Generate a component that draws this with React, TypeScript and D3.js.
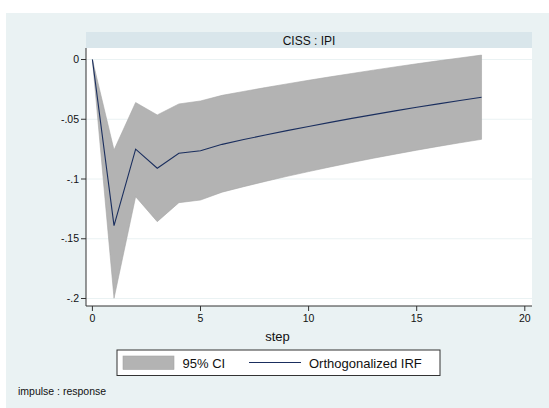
import React from "react";
import * as d3 from "d3";

const steps = [0, 1, 2, 3, 4, 5, 6, 7, 8, 9, 10, 11, 12, 13, 14, 15, 16, 17, 18];
const irf = [0, -0.139, -0.075, -0.091, -0.0785, -0.0763, -0.071, -0.067, -0.0632, -0.0595, -0.056, -0.0526, -0.0493, -0.0461, -0.043, -0.04, -0.0371, -0.0343, -0.0316];
const upper = [0, -0.0757, -0.036, -0.0464, -0.0372, -0.0347, -0.03, -0.0267, -0.0235, -0.0204, -0.0174, -0.0145, -0.0117, -0.0089, -0.0062, -0.0036, -0.0011, 0.0013, 0.0037];
const lower = [0, -0.1998, -0.1148, -0.1357, -0.1198, -0.1176, -0.111, -0.1064, -0.102, -0.0978, -0.0938, -0.0899, -0.0862, -0.0826, -0.0792, -0.0759, -0.0727, -0.0697, -0.0668];
const xTicks = [0, 5, 10, 15, 20];
const yTicks = [0, -0.05, -0.1, -0.15, -0.2];
const yTickLabels = ["0", "-.05", "-.1", "-.15", "-.2"];
const panelTitle = "CISS : IPI";
const xTitle = "step";
const legendLabels = ["95% CI", "Orthogonalized IRF"];
const note = "impulse : response";

const W = 549;
const H = 408;
const FONT = "'Liberation Sans', Arial, Helvetica, sans-serif";

export default function App() {
  const plotL = 86, plotR = 532, plotT = 48, plotB = 306;
  const x = d3.scaleLinear().domain([0, 20]).range([92.4, 524.8]);
  const y = d3.scaleLinear().domain([0, -0.2]).range([59.5, 298.5]);
  const data = steps.map((s, i) => ({ s, m: irf[i], u: upper[i], l: lower[i] }));
  const area = d3.area<any>().x((d) => x(d.s)).y0((d) => y(d.l)).y1((d) => y(d.u));
  const line = d3.line<any>().x((d) => x(d.s)).y((d) => y(d.m));
  const cx = (6 + W) / 2;

  return (
    <svg width={W} height={H} style={{ position: "absolute", left: 0, top: 0 }} fontFamily={FONT}>
      <rect x={0} y={0} width={W} height={H} fill="#ffffff" />
      <rect x={6} y={13} width={W - 6} height={H - 13} fill="#EAF2F3" />
      <rect x={plotL} y={plotT} width={plotR - plotL} height={plotB - plotT} fill="#ffffff" />
      <rect x={plotL} y={32} width={plotR - plotL} height={16} fill="#D9E6EB" />
      <text x={(plotL + plotR) / 2} y={44.5} fontSize={12} textAnchor="middle" fill="#111">{panelTitle}</text>
      {yTicks.map((t) => (
        <line key={"g" + t} x1={plotL} x2={plotR} y1={y(t)} y2={y(t)} stroke="#EAF2F3" strokeWidth={1} />
      ))}
      <path d={area(data) || ""} fill="#B3B3B3" stroke="#A6A6A6" strokeWidth={0.6} />
      <path d={line(data) || ""} fill="none" stroke="#1A2E5E" strokeWidth={1.1} />
      <line x1={plotL} x2={plotL} y1={plotT} y2={plotB} stroke="#333" strokeWidth={1} />
      <line x1={plotL} x2={plotR} y1={plotB} y2={plotB} stroke="#333" strokeWidth={1} />
      {yTicks.map((t, i) => (
        <g key={"y" + t}>
          <line x1={plotL - 5} x2={plotL} y1={y(t)} y2={y(t)} stroke="#333" />
          <text x={plotL - 7} y={y(t)} dy="0.35em" fontSize={10.5} textAnchor="end" fill="#111">{yTickLabels[i]}</text>
        </g>
      ))}
      {xTicks.map((t) => (
        <g key={"x" + t}>
          <line x1={x(t)} x2={x(t)} y1={plotB} y2={plotB + 5} stroke="#333" />
          <text x={x(t)} y={321.5} fontSize={10.5} textAnchor="middle" fill="#111">{t}</text>
        </g>
      ))}
      <text x={cx} y={341} fontSize={13} textAnchor="middle" fill="#111">{xTitle}</text>
      <rect x={117} y={350} width={323} height={25.5} fill="#ffffff" stroke="#333" strokeWidth={1} />
      <rect x={123} y={356} width={51} height={13.5} fill="#B3B3B3" stroke="#A6A6A6" strokeWidth={0.6} />
      <text x={182.5} y={367.5} fontSize={13} fill="#111">{legendLabels[0]}</text>
      <line x1={249} x2={301} y1={362.5} y2={362.5} stroke="#1A2E5E" strokeWidth={1.1} />
      <text x={309} y={367.5} fontSize={13} fill="#111">{legendLabels[1]}</text>
      <text x={18} y={395} fontSize={10.5} fill="#111">{note}</text>
    </svg>
  );
}
